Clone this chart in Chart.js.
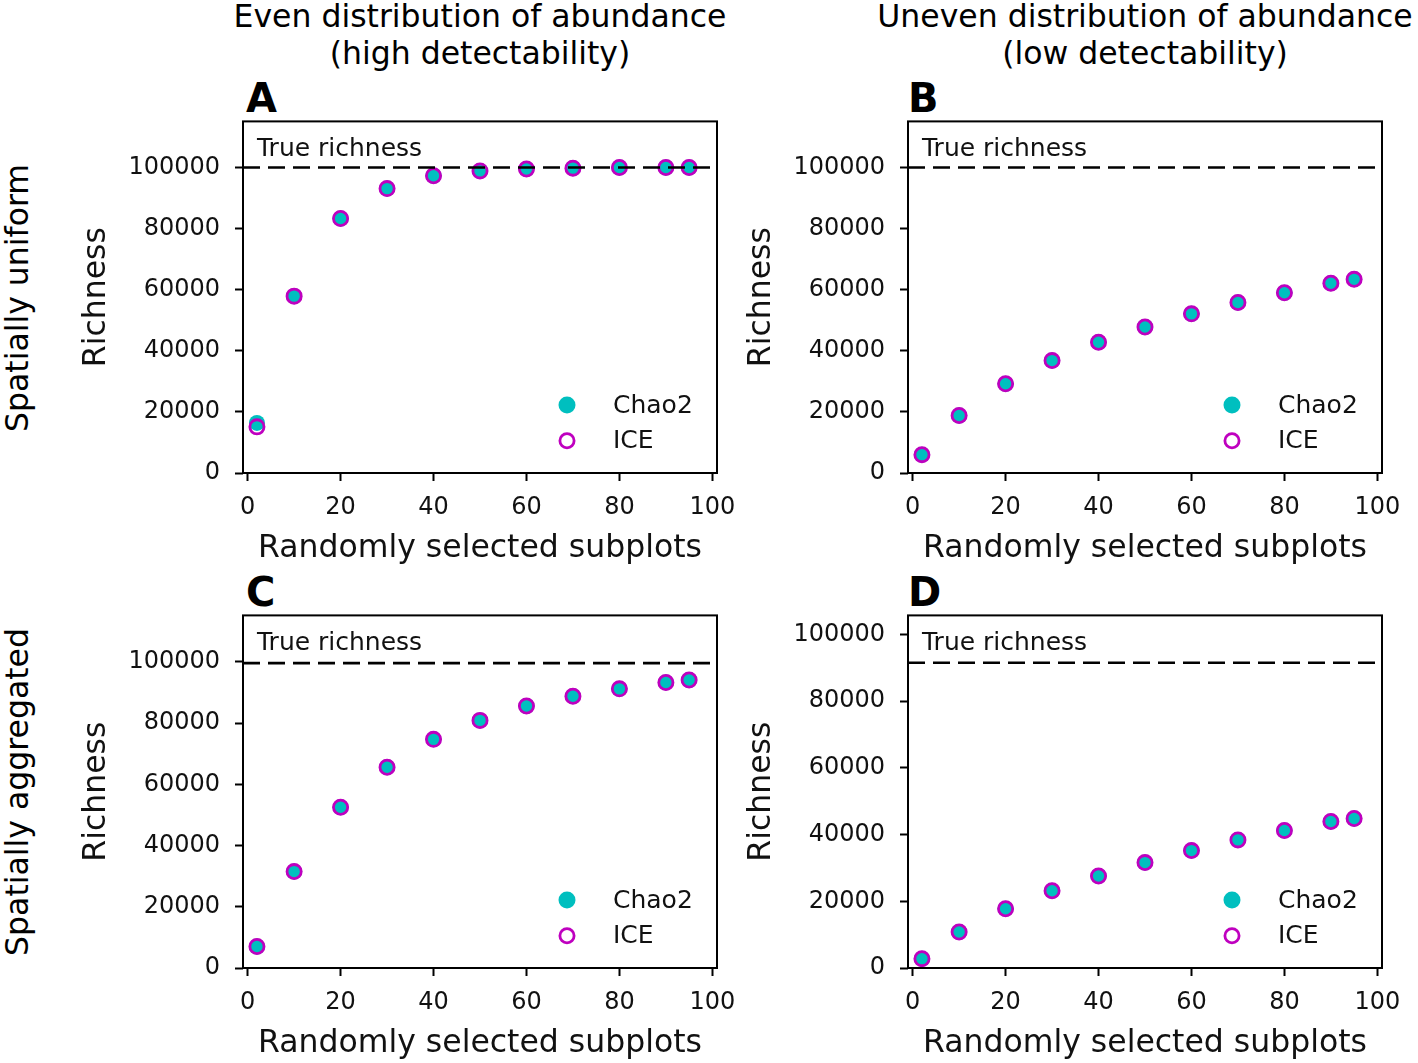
<!DOCTYPE html>
<html><head><meta charset="utf-8">
<script src="https://cdn.jsdelivr.net/npm/chart.js@4.4.1/dist/chart.umd.min.js"></script>
<style>
body{margin:0;background:#fff;width:1418px;height:1063px;position:relative;overflow:hidden;font-family:"DejaVu Sans";color:#000}
canvas{position:absolute}
.t{position:absolute;white-space:nowrap;font-family:"DejaVu Sans";color:#000}
.col{font-size:31.5px;line-height:37px;text-align:center;width:700px}
.row{font-size:31.5px;line-height:36px;width:500px;text-align:center;transform:rotate(-90deg);transform-origin:center center}
.let{font-size:40px;font-weight:bold;line-height:40px}
</style></head><body>

<div class="t col" style="left:130px;top:-2px">Even distribution of abundance<br>(high detectability)</div>
<div class="t col" style="left:795px;top:-2px">Uneven distribution of abundance<br>(low detectability)</div>
<div class="t row" style="left:-233px;top:280px">Spatially uniform</div>
<div class="t row" style="left:-233px;top:774px">Spatially aggregated</div>
<div class="t let" style="left:246px;top:78px">A</div>
<div class="t let" style="left:908px;top:78px">B</div>
<div class="t let" style="left:246px;top:572px">C</div>
<div class="t let" style="left:908px;top:572px">D</div>

<canvas id="cA" width="680" height="484" style="left:70px;top:92px"></canvas>
<canvas id="cB" width="680" height="484" style="left:735px;top:92px"></canvas>
<canvas id="cC" width="680" height="485" style="left:70px;top:586px"></canvas>
<canvas id="cD" width="680" height="485" style="left:735px;top:586px"></canvas>

<script>
// ---------- data ----------
const subplots = [2, 10, 20, 30, 40, 50, 60, 70, 80, 90, 95];
const seriesNames = ['Chao2', 'ICE'];
const trueLabel = 'True richness';
const xTitle = 'Randomly selected subplots';
const yTitle = 'Richness';
const xTicks = [0, 20, 40, 60, 80, 100];
const xTickLabels = ['0', '20', '40', '60', '80', '100'];
const yTicks = [0, 20000, 40000, 60000, 80000, 100000];
const yTickLabels = ['0', '20000', '40000', '60000', '80000', '100000'];

const chaoA = [16400, 57900, 83300, 93100, 97300, 98900, 99500, 99800, 100000, 100000, 100000];
const iceA  = [15100, 57900, 83300, 93100, 97300, 98900, 99500, 99800, 100000, 100000, 100000];
const chaoB = [6000, 18800, 29200, 36800, 42800, 47800, 52100, 55800, 59000, 62100, 63400];
const iceB  = [6000, 18800, 29200, 36800, 42800, 47800, 52100, 55800, 59000, 62100, 63400];
const chaoC = [7000, 31500, 52500, 65600, 74700, 80900, 85600, 88800, 91200, 93300, 94100];
const iceC  = [7000, 31500, 52500, 65600, 74700, 80900, 85600, 88800, 91200, 93300, 94100];
const chaoD = [2800, 10800, 17750, 23150, 27600, 31600, 35200, 38400, 41200, 43900, 44800];
const iceD  = [2800, 10800, 17750, 23150, 27600, 31600, 35200, 38400, 41200, 43900, 44800];
const trueRichness = [100000, 100000, 99600, 91500];   // A, B, C, D
const yMaxes = [115100, 115100, 115200, 105700];        // A, B, C, D
const xRange = [-1, 101];

// ---------- style ----------
const TEAL = '#00bfbf', MAGENTA = '#bf00bf', INK = '#111';
Chart.defaults.font.family = '"DejaVu Sans"';
Chart.defaults.color = INK;

const framePlugin = {
  id: 'frame',
  afterDatasetsDraw(chart) {
    const {ctx, chartArea: a} = chart;
    ctx.save();
    ctx.fillStyle = INK;
    ctx.font = '25px "DejaVu Sans"';
    ctx.textBaseline = 'alphabetic';
    ctx.textAlign = 'left';
    ctx.fillText(trueLabel, a.left + 14, a.top + 34.5);
    const ds = chart.data.datasets.filter(d => d.legendItem);
    ds.forEach((d, i) => {
      const cx = a.left + 324, cy = a.bottom - 68 + i * 35.7;
      ctx.beginPath();
      if (d.legendFill) {
        ctx.arc(cx, cy, 8.5, 0, Math.PI * 2);
        ctx.fillStyle = d.backgroundColor; ctx.fill();
      } else {
        ctx.arc(cx, cy, 7.1, 0, Math.PI * 2);
        ctx.lineWidth = 2.8; ctx.strokeStyle = d.borderColor; ctx.stroke();
      }
      ctx.fillStyle = INK;
      ctx.font = '25px "DejaVu Sans"';
      ctx.textBaseline = 'middle';
      ctx.fillText(d.label, a.left + 370, cy + 1);
    });
    ctx.strokeStyle = '#000';
    ctx.lineWidth = 2;
    ctx.strokeRect(a.left, a.top, a.right - a.left, a.bottom - a.top);
    ctx.restore();
  }
};

function pts(ys) { return subplots.map((x, i) => ({x: x, y: ys[i]})); }

function makeChart(id, chao, ice, tr, ymax) {
  return new Chart(document.getElementById(id), {
    type: 'scatter',
    data: {
      datasets: [
        { label: seriesNames[0], data: pts(chao), pointRadius: 8, pointBorderWidth: 0,
          backgroundColor: TEAL, pointBackgroundColor: TEAL, borderColor: TEAL, order: 2,
          legendItem: true, legendFill: true },
        { label: seriesNames[1], data: pts(ice), pointRadius: 7.1, pointBorderWidth: 2.8,
          borderColor: MAGENTA, backgroundColor: 'rgba(0,0,0,0)', pointBackgroundColor: 'rgba(0,0,0,0)',
          pointBorderColor: MAGENTA, order: 1, legendItem: true, legendFill: false },
        { type: 'line', label: trueLabel, data: [{x: xRange[0], y: tr}, {x: xRange[1], y: tr}],
          borderColor: '#000', borderWidth: 2.6, borderDash: [17, 8], pointRadius: 0, order: 0 }
      ]
    },
    options: {
      responsive: false, animation: false,
      layout: { padding: { left: 8, top: 0, right: 33, bottom: 8 } },
      plugins: { legend: { display: false }, tooltip: { enabled: false } },
      scales: {
        x: {
          type: 'linear', min: xRange[0], max: xRange[1],
          afterBuildTicks: s => { s.ticks = xTicks.map(v => ({value: v})); },
          afterFit: s => { s.height = 95; },
          ticks: { autoSkip: false, maxRotation: 0, padding: 12, font: {size: 24}, color: INK,
                   callback: (v, i) => xTickLabels[i] },
          grid: { drawOnChartArea: false, drawTicks: true, tickLength: 8, tickWidth: 2, tickColor: '#000' },
          border: { display: false },
          title: { display: true, text: xTitle, font: {size: 31.5}, color: INK, padding: 0 }
        },
        y: {
          type: 'linear', min: 0, max: ymax,
          afterBuildTicks: s => { s.ticks = yTicks.map(v => ({value: v})); },
          afterFit: s => { s.width = 165; },
          ticks: { autoSkip: false, padding: 15, font: {size: 24}, color: INK,
                   callback: (v, i) => yTickLabels[i] },
          grid: { drawOnChartArea: false, drawTicks: true, tickLength: 8, tickWidth: 2, tickColor: '#000' },
          border: { display: false },
          title: { display: true, text: yTitle, font: {size: 31.5}, color: INK, padding: 0 }
        }
      }
    },
    plugins: [framePlugin]
  });
}

makeChart('cA', chaoA, iceA, trueRichness[0], yMaxes[0]);
makeChart('cB', chaoB, iceB, trueRichness[1], yMaxes[1]);
makeChart('cC', chaoC, iceC, trueRichness[2], yMaxes[2]);
makeChart('cD', chaoD, iceD, trueRichness[3], yMaxes[3]);
</script>
</body></html>
